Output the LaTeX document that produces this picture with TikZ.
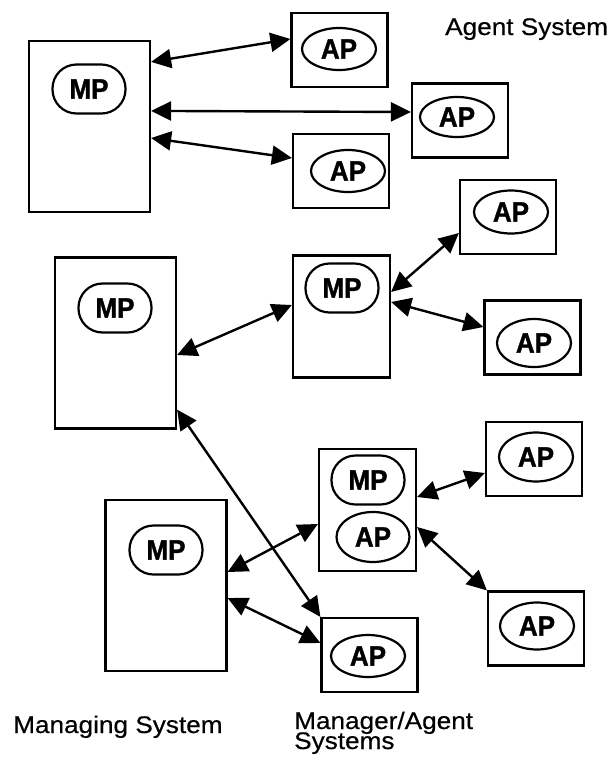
\documentclass[tikz,border=0pt]{standalone}
\usepackage{fontspec}
\setmainfont{Liberation Sans}[FakeStretch=1.09, FakeBold=0.5]
\newfontfamily\tagfont{Liberation Sans}[FakeStretch=0.93, FakeBold=1.3]
\usetikzlibrary{arrows.meta,shapes.geometric}

% caption font: tight line spacing for the two-line label
\newcommand{\captionfont}{\fontsize{24}{20}\selectfont\lineskiplimit=-20pt\relax}

\tikzset{
  sysbox/.style={draw, line width=2.2pt, inner sep=0pt,
    minimum width=#1},
  bigbox/.style={sysbox=121pt, minimum height=171pt},
  agbox/.style={sysbox=96pt, minimum height=74pt},
  mabox/.style={sysbox=97pt, minimum height=122pt},
  proc/.style={draw, line width=2.2pt, inner sep=0pt,
    font=\tagfont\bfseries\fontsize{28}{28}\selectfont},
  mp/.style={proc, rounded corners=24pt, minimum width=73pt, minimum height=49pt},
  ap/.style={proc, ellipse, minimum width=74pt, minimum height=#1},
  ap/.default=43pt,
  caption/.style={inner sep=0pt, font=\captionfont},
  link/.style={line width=2.4pt, {Triangle[length=20pt,width=19pt]}-{Triangle[length=20pt,width=19pt]}}
}

\begin{document}
\begin{tikzpicture}[x=1pt, y=-1pt]
\useasboundingbox (0,0) rectangle (608,761);

% managing systems on the left
\node[bigbox] (B1) at (89.5,126.5) {};
\node[bigbox] (B2) at (115.5,343) {};
\node[bigbox] (B3) at (166,585.5) {};
\node[mp] (B1p) at (89,89) {MP};
\node[mp] (B2p) at (115,308) {MP};
\node[mp] (B3p) at (166,550) {MP};

% agent systems
\node[agbox] (A1) at (339.5,50) {};
\node[agbox] (A2) at (460,120.5) {};
\node[agbox] (A3) at (341,171) {};
\node[agbox] (A4) at (508,217) {};
\node[agbox] (A5) at (532.5,337.5) {};
\node[agbox] (A6) at (534,459) {};
\node[agbox] (A7) at (536,628.5) {};
\node[agbox] (A8) at (369.5,655) {};
\node[ap=42pt] (A1p) at (339,49) {AP};
\node[ap=40pt] (A2p) at (457,117) {AP};
\node[ap=42pt] (A3p) at (348,171) {AP};
\node[ap=43pt] (A4p) at (511,212) {AP};
\node[ap=48pt] (A5p) at (534,343) {AP};
\node[ap=49pt] (A6p) at (536,457) {AP};
\node[ap=47pt] (A7p) at (537,626) {AP};
\node[ap=42pt] (A8p) at (368,656) {AP};

% manager/agent systems
\node[mabox] (M2) at (341.5,316.5) {};
\node[mp] (M2p) at (342,288) {MP};
\node[mabox] (MA) at (367.5,510) {};
\node[mp] (MAm) at (368,480) {MP};
\node[ap=50pt, minimum width=73pt] (MAa) at (373,537) {AP};

% associations
\draw[link] ([yshift=-22pt]B1.north east) -- ([yshift=11pt]A1.west);
\draw[link] ([yshift=-71pt]B1.north east) -- ([yshift=8.5pt]A2.west);
\draw[link] ([yshift=-11.5pt]B1.east) -- ([yshift=13pt]A3.west);
\draw[link] ([yshift=-12pt]B2.east) -- ([yshift=11.5pt]M2.west);
\draw[link] ([yshift=24.5pt]M2.east) -- ([yshift=-16pt]A4.west);
\draw[link] ([yshift=14.5pt]M2.east) -- ([yshift=10.5pt]A5.west);
\draw[link] ([yshift=20pt]B2.south east) -- (A8.north west);
\draw[link] ([yshift=13.5pt]B3.east) -- ([yshift=-14pt]MA.west);
\draw[link] ([yshift=-12.5pt]B3.east) -- ([yshift=12pt]A8.west);
\draw[link] ([yshift=13pt]MA.east) -- ([yshift=-14pt]A6.west);
\draw[link] ([yshift=-17pt]MA.east) -- (A7.north west);

% captions
\node[caption, anchor=base west] (capA) at (445,35) {Agent System};
\node[caption, anchor=base west] (capM) at (13,733) {Managing System};
\node[caption, anchor=base west, align=left] (capMA) at (294,749) {Manager/Agent\\Systems};
\end{tikzpicture}
\end{document}
